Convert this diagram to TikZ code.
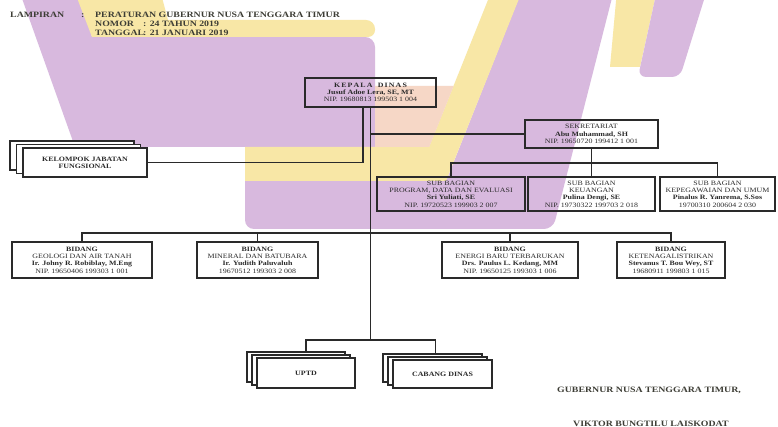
\documentclass[tikz,border=0pt]{standalone}
\usepackage{fontspec}
\setmainfont{Liberation Serif}[FakeStretch=1.2]
\usetikzlibrary{calc}
\definecolor{purp}{HTML}{D8B9DE}
\definecolor{yel}{HTML}{F8E7A6}
\definecolor{peach}{HTML}{F6D7C6}
\definecolor{ink}{HTML}{2A2A2A}
\definecolor{hdr}{HTML}{3D3D35}
\newcommand{\boxf}{\fontsize{6.6}{7.3}\selectfont}
\newcommand{\hdrf}{\fontsize{8.2}{9}\selectfont\bfseries}
\pgfdeclarelayer{back}
\pgfdeclarelayer{mid}
\pgfsetlayers{back,mid,main}
\tikzset{
  box/.style={draw=ink, line width=1.2pt, inner sep=1pt, align=center, font=\boxf, text=ink},
  stackbox/.style={box, fill=white},
  conn/.style={draw=ink, line width=1.1pt},
  hdrtext/.style={font=\hdrf, text=hdr, inner sep=0pt, anchor=base west},
}
\begin{document}
\begin{tikzpicture}[x=1pt,y=-1pt]
\useasboundingbox (0,0) rectangle (778,427);
\begin{pgfonlayer}{back}
\fill[white] (0,0) rectangle (778,427);
\fill[purp] (19,-10) -- (80,-10) -- (92,37) -- (365,37) to[out=0,in=90] (375,47) -- (375,147) -- (75,147) -- cycle;
\fill[yel] (74,-10) -- (160,-10) -- (168,20) -- (366,20) to[out=0,in=90] (375,29) -- (375,30) to[out=-90,in=0] (368,37) -- (92,37) -- cycle;
\fill[purp] (522,-10) -- (614,-10) [rounded corners=9pt] -- (553,229) -- (245,229) [sharp corners] -- (245,179) -- (447,179) -- cycle;
\fill[yel] (492,-10) -- (522.5,-10) -- (446,181) -- (245,181) -- (245,147) -- (429,147) -- cycle;
\fill[peach] (375,86) -- (453.6,86) -- (429.2,147) -- (375,147) -- cycle;
\fill[yel] (617,-10) -- (657,-10) -- (640,67) -- (610,67) -- cycle;
\fill[purp] (657,-10) -- (707,-10) [rounded corners=8pt] -- (680,77) -- (638,77) [sharp corners] -- cycle;
\end{pgfonlayer}
% ---- header ----
\node[hdrtext] (lamp) at (10,17.5) {LAMPIRAN};
\node[hdrtext] (lcol) at (81,17.5) {:};
\node[hdrtext] (per) at (95,17.5) {PERATURAN GUBERNUR NUSA TENGGARA TIMUR};
\node[hdrtext] (nom) at (95,26.5) {NOMOR};
\node[hdrtext] (nomv) at (143,26.5) {: 24 TAHUN 2019};
\node[hdrtext] (tgl) at (95,35.5) {TANGGAL};
\node[hdrtext] (tglv) at (143,35.5) {: 21 JANUARI 2019};
% ---- boxes ----
\node[box, minimum width=131pt, minimum height=29pt] (kepala) at (370.5,92.5)
  {\textbf{K\,E\,P\,A\,L\,A\,\,\, D\,I\,N\,A\,S}\\\textbf{Jusuf Adoe Lera, SE, MT}\\NIP. 19680813 199503 1 004};
\node[box, minimum width=133pt, minimum height=28pt] (sekr) at (591.5,134)
  {SEKRETARIAT\\\textbf{Abu Muhammad, SH}\\NIP. 19650720 199412 1 001};
\node[box, minimum width=148pt, minimum height=34pt] (sb1) at (451,194)
  {SUB BAGIAN\\PROGRAM, DATA DAN EVALUASI\\\textbf{Sri Yuliati, SE}\\NIP. 19720523 199903 2 007};
\node[box, minimum width=127pt, minimum height=34pt] (sb2) at (591.5,194)
  {SUB BAGIAN\\KEUANGAN\\\textbf{Pulina Dengi, SE}\\NIP. 19730322 199703 2 018};
\node[box, minimum width=115pt, minimum height=34pt] (sb3) at (717.5,194)
  {SUB BAGIAN\\KEPEGAWAIAN DAN UMUM\\\textbf{Pinalus R. Yanrema, S.Sos}\\19700310 200604 2 030};
\node[box, minimum width=140pt, minimum height=36pt] (b1) at (82,260)
  {\textbf{BIDANG}\\GEOLOGI DAN AIR TANAH\\\textbf{Ir. Johny R. Robiblay, M.Eng}\\NIP. 19650406 199303 1 001};
\node[box, minimum width=121pt, minimum height=36pt] (b2) at (257.5,260)
  {\textbf{BIDANG}\\MINERAL DAN BATUBARA\\\textbf{Ir. Yudith Paluvaluh}\\19670512 199303 2 008};
\node[box, minimum width=136pt, minimum height=36pt] (b3) at (510,260)
  {\textbf{BIDANG}\\ENERGI BARU TERBARUKAN\\\textbf{Drs. Paulus L. Kedang, MM}\\NIP. 19650125 199303 1 006};
\node[box, minimum width=108pt, minimum height=36pt] (b4) at (671,260)
  {\textbf{BIDANG}\\KETENAGALISTRIKAN\\\textbf{Stevanus T. Bou Wey, ST}\\19680911 199803 1 015};
% ---- stacked boxes ----
\node[stackbox, minimum width=124pt, minimum height=29pt] (kjf3) at (72,155.5) {};
\node[stackbox, minimum width=124pt, minimum height=29pt] (kjf2) at (78.5,159) {};
\node[stackbox, minimum width=124pt, minimum height=29pt] (kjf) at (85,162.5)
  {\textbf{KELOMPOK JABATAN}\\\textbf{FUNGSIONAL}};
\node[stackbox, minimum width=98pt, minimum height=30pt] (uptd3) at (296,367) {};
\node[stackbox, minimum width=98pt, minimum height=30pt] (uptd2) at (301,370) {};
\node[stackbox, minimum width=98pt, minimum height=30pt] (uptd) at (306,373) {\textbf{UPTD}};
\node[stackbox, minimum width=99pt, minimum height=28pt] (cab3) at (432.5,368) {};
\node[stackbox, minimum width=99pt, minimum height=28pt] (cab2) at (437.5,371) {};
\node[stackbox, minimum width=99pt, minimum height=28pt] (cab) at (442.5,374) {\textbf{CABANG DINAS}};
% ---- connectors ----
\coordinate (sbus) at (591.5,163);
\coordinate (bbus) at (370.5,233);
\coordinate (ubus) at (370.5,340);
\begin{pgfonlayer}{mid}
\draw[conn] (kepala.south) -- (ubus);
\draw[conn] ([xshift=-7.5pt]kepala.south) |- (kjf.east);
\draw[conn] (sekr.west) -- (sekr.west -| kepala.south);
\draw[conn] (sekr.south) -- (sb2.north);
\draw[conn] (sb1.north) |- (sbus) -| (sb3.north);
\draw[conn] (b1.north) |- (bbus) -| (b4.north);
\draw[conn] (b2.north) -- (b2.north |- bbus);
\draw[conn] (b3.north) -- (b3.north |- bbus);
\draw[conn] (uptd.north) |- (ubus) -| ([xshift=-7pt]cab.north);
\end{pgfonlayer}
% ---- signature ----
\node[hdrtext] (gub) at (557,392) {GUBERNUR NUSA TENGGARA TIMUR,};
\node[hdrtext] (vik) at (573,426) {VIKTOR BUNGTILU LAISKODAT};
\end{tikzpicture}
\end{document}
